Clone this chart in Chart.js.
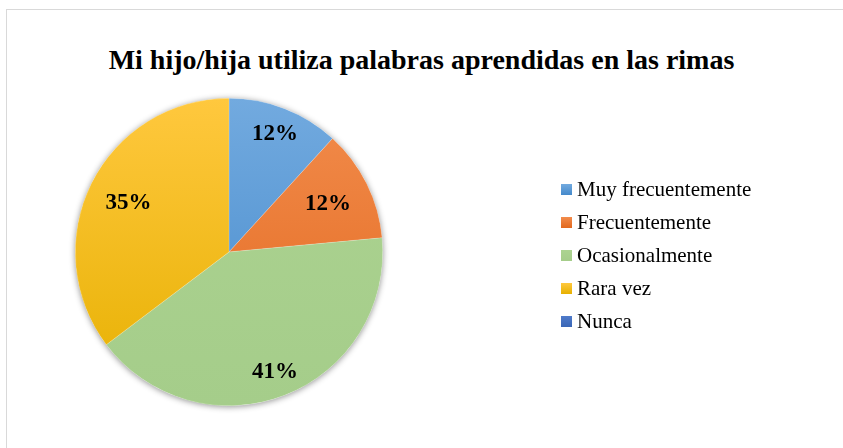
<!DOCTYPE html>
<html>
<head>
<meta charset="utf-8">
<script src="https://cdn.jsdelivr.net/npm/chart.js@4/dist/chart.umd.min.js"></script>
<style>
  html, body { margin: 0; padding: 0; background: #fff; }
  body { width: 843px; height: 448px; position: relative; overflow: hidden; font-family: "Liberation Serif", "Times New Roman", serif; }
  #frame { position: absolute; left: 6px; top: 9px; width: 860px; height: 460px; border: 1px solid #d9d9d9; box-sizing: border-box; }
  #title { position: absolute; left: 0; width: 843px; top: 46px; text-align: center; font-weight: bold; font-size: 28px; line-height: 28px; color: #000; }
  #legend { position: absolute; left: 561px; top: 173px; }
  .item { height: 33px; display: flex; align-items: center; font-size: 21px; color: #000; white-space: nowrap; }
  .box { width: 11px; height: 11px; margin-right: 5px; }
  canvas { position: absolute; left: 0; top: 0; }
</style>
</head>
<body>
<div id="frame"></div>
<div id="title">Mi hijo/hija utiliza palabras aprendidas en las rimas</div>
<canvas id="pieChart" width="843" height="448"></canvas>
<div id="legend"></div>
<script>
document.addEventListener('DOMContentLoaded', function () {
    // data (counts, 17 respuestas)
    const categories = ['Muy frecuentemente', 'Frecuentemente', 'Ocasionalmente', 'Rara vez', 'Nunca'];
    const counts = [2, 2, 7, 6, 0];
    const percentLabels = ['12%', '12%', '41%', '35%', ''];

    const baseColors = ['#5B9BD5', '#ED7D31', '#A9D18E', '#FFC000', '#4472C4'];
    const topColors = ['#72AADF', '#F28C4C', '#ACD391', '#FFC83E', '#4F7BCA'];
    const bottomColors = ['#4489CB', '#E2681E', '#A5CD8A', '#E6B000', '#3A66B6'];

    // label distance from center, as share of the radius
    const labelRadius = [0.83, 0.72, 0.83, 0.73, 0.7];

    function sliceColor(context) {
        const chart = context.chart;
        const area = chart.chartArea;
        const i = context.dataIndex;
        if (!area) return baseColors[i];
        const g = chart.ctx.createLinearGradient(0, area.top, 0, area.bottom);
        g.addColorStop(0, topColors[i]);
        g.addColorStop(1, bottomColors[i]);
        return g;
    }

    const shadowPlugin = {
        id: 'pieShadow',
        beforeDatasetsDraw(chart) {
            const arc = chart.getDatasetMeta(0).data[0];
            if (!arc) return;
            const ctx = chart.ctx;
            ctx.save();
            ctx.shadowColor = 'rgba(0,0,0,0.45)';
            ctx.shadowBlur = 6;
            ctx.shadowOffsetX = 0;
            ctx.shadowOffsetY = 1;
            ctx.fillStyle = '#fff';
            ctx.beginPath();
            ctx.arc(arc.x, arc.y, arc.outerRadius, 0, Math.PI * 2);
            ctx.fill();
            ctx.restore();
        }
    };

    const labelPlugin = {
        id: 'sliceLabels',
        afterDatasetsDraw(chart) {
            const ctx = chart.ctx;
            const meta = chart.getDatasetMeta(0);
            ctx.save();
            ctx.font = 'bold 23px "Liberation Serif", "Times New Roman", serif';
            ctx.fillStyle = '#000';
            ctx.textAlign = 'center';
            ctx.textBaseline = 'middle';
            meta.data.forEach((arc, i) => {
                if (!percentLabels[i]) return;
                const mid = (arc.startAngle + arc.endAngle) / 2;
                const r = arc.outerRadius * labelRadius[i];
                ctx.fillText(percentLabels[i], arc.x + Math.cos(mid) * r, arc.y + Math.sin(mid) * r + 1);
            });
            ctx.restore();
        }
    };

    const chart = new Chart(document.getElementById('pieChart').getContext('2d'), {
        type: 'pie',
        data: {
            labels: categories,
            datasets: [{
                data: counts,
                backgroundColor: sliceColor,
                borderColor: 'rgba(255,255,255,0.35)',
                borderWidth: 0.5,
                hoverOffset: 0
            }]
        },
        options: {
            responsive: false,
            maintainAspectRatio: false,
            animation: false,
            layout: { padding: { top: 98, bottom: 42, left: 75, right: 460 } },
            plugins: {
                legend: { display: false },
                title: { display: false },
                tooltip: { enabled: false }
            }
        },
        plugins: [shadowPlugin, labelPlugin]
    });

    // legend built from the chart's own items
    const legendEl = document.getElementById('legend');
    const items = chart.options.plugins.legend.labels.generateLabels(chart);
    items.forEach((item, i) => {
        const row = document.createElement('div');
        row.className = 'item';
        const box = document.createElement('span');
        box.className = 'box';
        box.style.background = 'linear-gradient(' + topColors[i] + ',' + bottomColors[i] + ')';
        row.appendChild(box);
        row.appendChild(document.createTextNode(item.text));
        legendEl.appendChild(row);
    });
});
</script>
</body>
</html>
